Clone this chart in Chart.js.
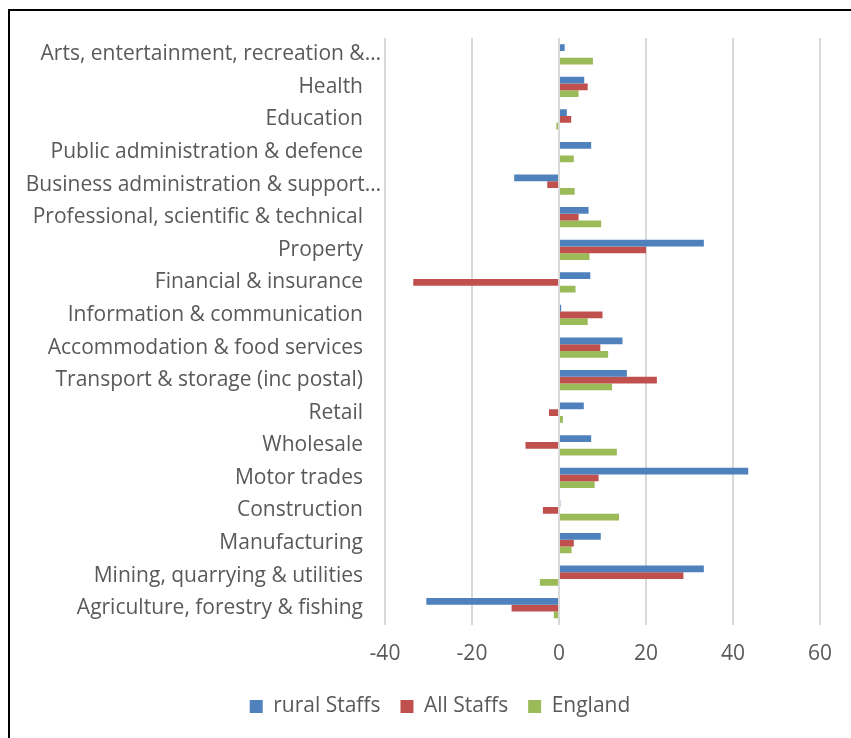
<!DOCTYPE html>
<html><head><meta charset="utf-8">
<script src="https://cdn.jsdelivr.net/npm/chart.js@4"></script>
<style>
html,body{margin:0;padding:0;background:#fff;overflow:hidden;width:851px;height:738px}
#frame{position:absolute;left:8px;top:9px;width:900px;height:800px;border:2px solid #000;box-sizing:border-box}
#wrap{position:absolute;left:0;top:0;width:851px;height:738px}
canvas{position:absolute;left:0;top:0}
</style></head><body>
<div id="frame"></div>
<div id="wrap"><canvas id="c" width="851" height="738"></canvas></div>
<script>
const categories = [
  "Arts, entertainment, recreation &…",
  "Health",
  "Education",
  "Public administration & defence",
  "Business administration & support…",
  "Professional, scientific & technical",
  "Property",
  "Financial & insurance",
  "Information & communication",
  "Accommodation & food services",
  "Transport & storage (inc postal)",
  "Retail",
  "Wholesale",
  "Motor trades",
  "Construction",
  "Manufacturing",
  "Mining, quarrying & utilities",
  "Agriculture, forestry & fishing"
];
const ruralStaffs = [1.3, 5.8, 1.8, 7.4, -10.3, 6.8, 33.3, 7.2, 0.5, 14.6, 15.6, 5.7, 7.4, 43.5, 0.3, 9.6, 33.3, -30.5];
const allStaffs   = [0, 6.6, 2.8, 0, -2.7, 4.5, 20.0, -33.5, 10.0, 9.5, 22.5, -2.3, -7.7, 9.1, -3.7, 3.4, 28.6, -10.9];
const england     = [7.8, 4.5, -0.6, 3.4, 3.6, 9.7, 7.0, 3.8, 6.6, 11.3, 12.2, 0.9, 13.3, 8.2, 13.8, 2.9, -4.4, -1.2];
const xTicks = [-40, -20, 0, 20, 40, 60];

const FONT = "'Open Sans', sans-serif";
const TXT = "#595959";

const tweaks = {
  id: 'tweaks',
  afterLayout(chart) {
    if (chart.legend) { chart.legend.left += 30; chart.legend.right += 30; }
  },
  beforeDraw(chart) {
    const s = chart.scales.y;
    const items = s.getLabelItems(chart.chartArea);
    items.forEach(it => {
      if (!it._shifted && String(it.label).endsWith('…')) {
        it.options.translation[0] += 18;
        it._shifted = true;
      }
    });
  }
};

new Chart(document.getElementById('c'), {
  type: 'bar',
  data: {
    labels: categories,
    datasets: [
      {label: 'rural Staffs', data: ruralStaffs, backgroundColor: '#4F81BD'},
      {label: 'All Staffs', data: allStaffs, backgroundColor: '#C0504D'},
      {label: 'England', data: england, backgroundColor: '#9BBB59'}
    ]
  },
  plugins: [tweaks],
  options: {
    indexAxis: 'y',
    responsive: false,
    animation: false,
    layout: {padding: {top: 38, right: 31, bottom: 11, left: 0}},
    datasets: {bar: {categoryPercentage: 0.62, barPercentage: 1.0, borderWidth: 0}},
    scales: {
      x: {
        min: xTicks[0], max: xTicks[xTicks.length - 1],
        afterBuildTicks: (s) => { s.ticks = xTicks.map(v => ({value: v})); },
        afterFit: (s) => { s.height = 51.5; },
        grid: {color: '#D9D9D9', lineWidth: 2, drawTicks: false},
        border: {display: false},
        ticks: {font: {family: FONT, size: 21}, color: TXT, padding: 16.5}
      },
      y: {
        afterFit: (s) => { s.width = 385; },
        grid: {display: false, drawTicks: false},
        border: {display: false},
        ticks: {font: {family: FONT, size: 21}, color: TXT, padding: 22, autoSkip: false}
      }
    },
    plugins: {
      legend: {
        position: 'bottom',
        labels: {font: {family: FONT, size: 21}, color: TXT, boxWidth: 13, boxHeight: 13, padding: 20}
      },
      tooltip: {enabled: false}
    }
  }
});
</script>
</body></html>
